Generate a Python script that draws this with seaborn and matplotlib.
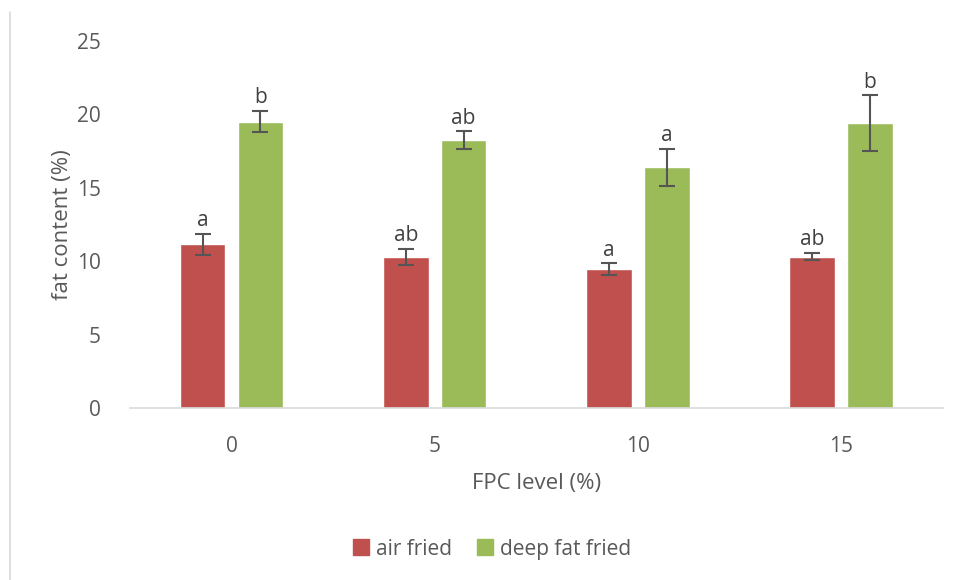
import pandas as pd
import seaborn as sns
import matplotlib.pyplot as plt
from matplotlib.lines import Line2D

fpc_levels = ['0', '5', '10', '15']
air_fried = [11.15, 10.27, 9.45, 10.31]
air_err = [0.70, 0.55, 0.40, 0.23]
deep_fried = [19.50, 18.23, 16.40, 19.40]
deep_err = [0.72, 0.62, 1.26, 1.89]
air_letters = ['a', 'ab', 'a', 'ab']
deep_letters = ['b', 'ab', 'a', 'b']

sns.set_style('white')
plt.rcParams['font.family'] = ['Open Sans', 'DejaVu Sans']
gris = '#595959'

df = pd.DataFrame({
    'fpc': fpc_levels * 2,
    'fat': air_fried + deep_fried,
    'err': air_err + deep_err,
    'lettre': air_letters + deep_letters,
    'type': ['air fried'] * 4 + ['deep fat fried'] * 4,
})

fig = plt.figure(figsize=(9.55, 5.8), dpi=100)
ax = fig.add_axes([0.136, 0.2966, 0.851, 0.6327])

sns.barplot(data=df, x='fpc', y='fat', hue='type', order=fpc_levels,
            palette=['#C0504D', '#9BBB59'], saturation=1, width=0.57, gap=0.21,
            errorbar=None, legend=False, ax=ax)

# barres d'erreur + lettres
patches = [p for p in ax.patches if p.get_height() > 0]
for p, (_, row) in zip(patches, df.iterrows()):
    xc = p.get_x() + p.get_width() / 2
    ax.errorbar(xc, row['fat'], yerr=row['err'], color='#555555',
                capsize=5.5, elinewidth=1.5, capthick=1.5)
    ax.annotate(row['lettre'], (xc, row['fat'] + row['err']),
                xytext=(0, 2), textcoords='offset points',
                ha='center', va='bottom', fontsize=15, color='#404040')

ax.set_ylim(0, 25)
ax.set_xlim(-0.5, 3.5)
ax.set_yticks([0, 5, 10, 15, 20, 25])
ax.tick_params(axis='y', length=0, pad=21, labelsize=15, labelcolor=gris)
ax.tick_params(axis='x', length=0, pad=20, labelsize=15, labelcolor=gris)
ax.set_xlabel('FPC level (%)', fontsize=16, color=gris, labelpad=12)
ax.set_ylabel('fat content (%)', fontsize=16, color=gris, labelpad=3)
for s in ['top', 'right', 'left']:
    ax.spines[s].set_visible(False)
ax.spines['bottom'].set_color('#D9D9D9')
ax.spines['bottom'].set_linewidth(1.2)

# légende
handles = [Line2D([], [], marker='s', linestyle='', markersize=11, color=c)
           for c in ['#C0504D', '#9BBB59']]
fig.legend(handles, ['air fried', 'deep fat fried'], loc='center',
           bbox_to_anchor=(0.515, 0.053), ncol=2, frameon=False,
           fontsize=15, labelcolor=gris, handlelength=0.8,
           handletextpad=0.3, columnspacing=1.2)

# bord gauche du cadre
fig.add_artist(Line2D([0.0105, 0.0105], [0, 0.98], color='#D9D9D9', lw=1.2))

fig.savefig('out.png', dpi=100)
